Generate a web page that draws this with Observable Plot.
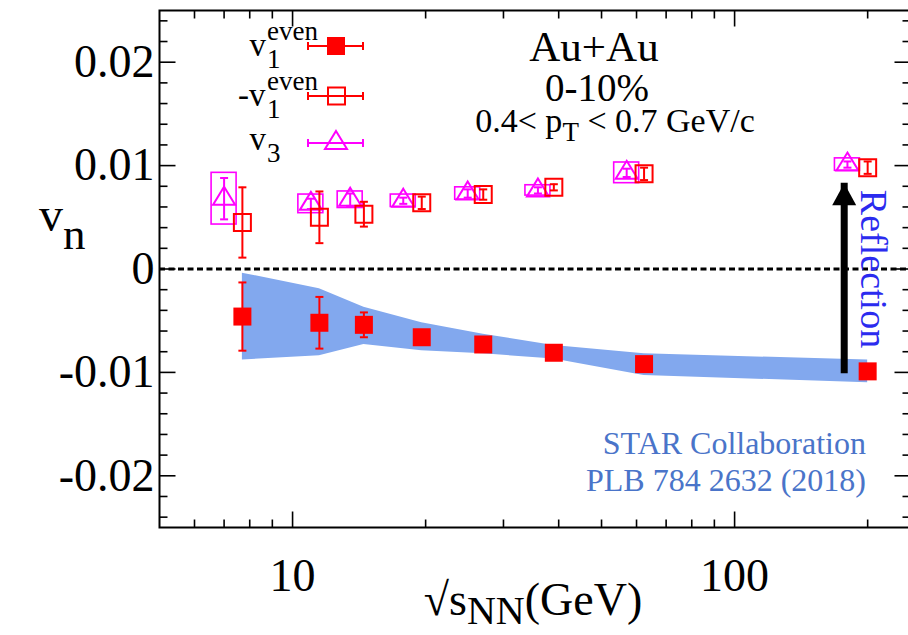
<!DOCTYPE html>
<html><head><meta charset="utf-8">
<script src="https://cdn.jsdelivr.net/npm/d3@7"></script>
<script src="https://cdn.jsdelivr.net/npm/@observablehq/plot@0.6"></script>
<style>body{margin:0;background:#fff}</style>
</head><body><div id="chart"></div>
<script>
// ---- data ----
const energies = [7.7, 11.5, 14.5, 19.6, 27, 39, 62.4, 200];
const v1Even = [-0.0046, -0.0052, -0.0054, -0.0066, -0.0073, -0.0081, -0.0092, -0.0099];
const v1EvenErr = [0.0033, 0.0025, 0.0012, 0.0003, 0.0002, 0.0002, 0.0002, 0.0002];
const negV1Even = [0.0045, 0.0050, 0.0053, 0.0064, 0.0072, 0.0079, 0.0092, 0.0098];
const negV1EvenErr = [0.0034, 0.0025, 0.0012, 0.0006, 0.0005, 0.0003, 0.0006, 0.0006];
const v3Energies = [7.0, 11.0, 13.5, 17.8, 24.9, 35.9, 57.0, 180];
const v3 = [0.0068, 0.0063, 0.0067, 0.0066, 0.0073, 0.0076, 0.0093, 0.0101];
const v3Err = [0.0020, 0.0005, 0.0006, 0.0003, 0.0004, 0.0003, 0.0004, 0.0003];
const v3Sys = [0.0025, 0.0009, 0.0008, 0.0006, 0.0006, 0.0005, 0.0010, 0.0006];
const bandHigh = [-0.0004, -0.0019, -0.0037, -0.0052, -0.0063, -0.0074, -0.0082, -0.0088];
const bandLow = [-0.0088, -0.0084, -0.0073, -0.0079, -0.0082, -0.0087, -0.0103, -0.0110];
const arrowX = 177, arrowFrom = -0.0084, arrowTo = 0.0083;
const reflectionPos = {x: 206, y: 0};
const xMajorTicks = [10, 100];
const xMinorTicks = [6, 7, 8, 9, 20, 30, 40, 50, 60, 70, 80, 90, 200];
const yMajorTicks = [-0.02, -0.01, 0, 0.01, 0.02];
const yMinorTicks = [-0.024, -0.022, -0.018, -0.016, -0.014, -0.012, -0.008, -0.006, -0.004, -0.002,
                     0.002, 0.004, 0.006, 0.008, 0.012, 0.014, 0.016, 0.018, 0.022, 0.024];

// ---- tables ----
const v1Data = energies.map((x, i) => ({x, y: v1Even[i], err: v1EvenErr[i]}));
const negData = energies.map((x, i) => ({x, y: negV1Even[i], err: negV1EvenErr[i]}));
const v3Data = v3Energies.map((x, i) => ({x, y: v3[i], err: v3Err[i], sys: v3Sys[i]}));
const bandData = energies.map((x, i) => ({x, lo: bandLow[i], hi: bandHigh[i]}));

// ---- custom symbols ----
const sym = fn => ({draw(ctx) { fn(ctx); }});
const squareSym = s => sym(c => { c.rect(-s, -s, 2 * s, 2 * s); });
const triSym = (w, h) => sym(c => { c.moveTo(0, -2 * h / 3); c.lineTo(w / 2, h / 3); c.lineTo(-w / 2, h / 3); c.closePath(); });
const hCap = w => sym(c => { c.moveTo(-w, 0); c.lineTo(w, 0); });
const tickV = L => sym(c => { c.moveTo(0, 0); c.lineTo(0, L); });
const tickH = L => sym(c => { c.moveTo(0, 0); c.lineTo(L, 0); });
const headSym = sym(c => { c.moveTo(0, 0); c.lineTo(12, 22); c.lineTo(-12, 22); c.closePath(); });

const RED = "#ff0000", MAG = "#ff00ff";
const F = "'Liberation Serif', 'Times New Roman', serif";

function errMarks(data, color) {
  return [
    Plot.ruleX(data, {x: "x", y1: d => d.y - d.err, y2: d => d.y + d.err, stroke: color, strokeWidth: 2}),
    Plot.dot(data, {x: "x", y: d => d.y - d.err, symbol: hCap(4), stroke: color, strokeWidth: 2, fill: "none"}),
    Plot.dot(data, {x: "x", y: d => d.y + d.err, symbol: hCap(4), stroke: color, strokeWidth: 2, fill: "none"})
  ];
}

const plot = Plot.plot({
  width: 908, height: 635,
  marginLeft: 159, marginRight: -2, marginTop: 10, marginBottom: 108,
  x: {type: "log", domain: [5, 250]},
  y: {domain: [-0.025, 0.025]},
  style: {fontFamily: F, background: "white", color: "black"},
  marks: [
    Plot.areaY(bandData, {x: "x", y1: "lo", y2: "hi", fill: "#82a8ee"}),
    Plot.ruleY([0], {stroke: "black", strokeWidth: 3, strokeDasharray: "6,3.5"}),
    // v3 systematic boxes
    Plot.rect(v3Data, {x1: "x", x2: "x", y1: d => d.y - d.sys, y2: d => d.y + d.sys, insetLeft: -12.5, insetRight: -12.5, stroke: MAG, strokeWidth: 1.6, fill: "none"}),
    ...errMarks(v3Data, MAG),
    Plot.dot(v3Data, {x: "x", y: "y", symbol: triSym(22, 18), stroke: MAG, strokeWidth: 2, fill: "none"}),
    ...errMarks(negData, RED),
    Plot.dot(negData, {x: "x", y: "y", symbol: squareSym(8.5), stroke: RED, strokeWidth: 2, fill: "none"}),
    ...errMarks(v1Data, RED),
    Plot.dot(v1Data, {x: "x", y: "y", symbol: squareSym(9), fill: RED, stroke: "none"}),
    // arrow
    Plot.ruleX([arrowX], {y1: arrowFrom, y2: arrowTo, insetTop: 18, stroke: "black", strokeWidth: 7}),
    Plot.dot([arrowX], {x: d => d, y: () => arrowTo, symbol: headSym, fill: "black", stroke: "none"}),
    Plot.text(["Reflection"], {x: () => reflectionPos.x, y: () => reflectionPos.y, text: d => d, rotate: 90, fill: "#2b2bef", fontSize: 38}),
    // frame & ticks
    Plot.frame({stroke: "black", strokeWidth: 2}),
    Plot.dot(xMajorTicks, {x: d => d, frameAnchor: "bottom", symbol: tickV(-16), stroke: "black", strokeWidth: 1.6, fill: "none"}),
    Plot.dot(xMinorTicks, {x: d => d, frameAnchor: "bottom", symbol: tickV(-8), stroke: "black", strokeWidth: 1.6, fill: "none"}),
    Plot.dot(xMajorTicks, {x: d => d, frameAnchor: "top", symbol: tickV(16), stroke: "black", strokeWidth: 1.6, fill: "none"}),
    Plot.dot(xMinorTicks, {x: d => d, frameAnchor: "top", symbol: tickV(8), stroke: "black", strokeWidth: 1.6, fill: "none"}),
    Plot.dot(yMajorTicks, {y: d => d, frameAnchor: "left", symbol: tickH(16), stroke: "black", strokeWidth: 1.6, fill: "none"}),
    Plot.dot(yMinorTicks, {y: d => d, frameAnchor: "left", symbol: tickH(8), stroke: "black", strokeWidth: 1.6, fill: "none"}),
    Plot.dot(yMajorTicks, {y: d => d, frameAnchor: "right", symbol: tickH(-16), stroke: "black", strokeWidth: 1.6, fill: "none"}),
    Plot.dot(yMinorTicks, {y: d => d, frameAnchor: "right", symbol: tickH(-8), stroke: "black", strokeWidth: 1.6, fill: "none"}),
    Plot.axisX({anchor: "bottom", ticks: xMajorTicks, tickSize: 0, tickPadding: 31, fontSize: 46, label: null, tickFormat: d => String(d)}),
    Plot.axisY({anchor: "left", ticks: yMajorTicks, tickSize: 0, tickPadding: 5, fontSize: 46, label: null, tickFormat: d => String(d)})
  ]
});
document.getElementById("chart").appendChild(plot);

// ---- extra texts (labels with sub/superscripts, annotation, legend) ----
const svg = d3.select(plot);
const g = svg.append("g").attr("font-family", F).attr("fill", "black").attr("text-anchor", "start");

// y label
const yl = g.append("text").attr("x", 39).attr("y", 231).attr("font-size", 48);
yl.append("tspan").text("v");
yl.append("tspan").attr("dy", 18).attr("font-size", 45).text("n");

// x label
const xl = g.append("text").attr("x", 533).attr("y", 615).attr("font-size", 46).attr("text-anchor", "middle");
xl.append("tspan").text("\u221As");
xl.append("tspan").attr("dy", 9).attr("font-size", 40).text("NN");
xl.append("tspan").attr("dy", -9).text("(GeV)");

// annotation (one text block, centred lines)
const ann = g.append("text").attr("text-anchor", "middle");
ann.append("tspan").attr("x", 594).attr("y", 61).attr("font-size", 43).text("Au+Au");
ann.append("tspan").attr("x", 597).attr("y", 101).attr("font-size", 39).text("0-10%");
ann.append("tspan").attr("x", 615).attr("y", 132).attr("font-size", 34).text("0.4< p");
ann.append("tspan").attr("dy", 9).attr("font-size", 27).text("T");
ann.append("tspan").attr("dy", -9).attr("font-size", 34).text(" < 0.7 GeV/c");

// STAR note
const star = g.append("text").attr("text-anchor", "end").attr("font-size", 32).attr("fill", "#4a74c9");
star.append("tspan").attr("x", 866).attr("y", 454).text("STAR Collaboration");
star.append("tspan").attr("x", 866).attr("y", 491).text("PLB 784 2632 (2018)");

// legend
const legendRows = [
  {y: 46, pre: "v", sub: "1", sup: "even", kind: "fill", color: RED},
  {y: 96, pre: "-v", sub: "1", sup: "even", kind: "open", color: RED},
  {y: 143, pre: "v", sub: "3", sup: null, kind: "tri", color: MAG}
];
const lt = g.append("text").attr("font-size", 33);
legendRows.forEach(r => {
  const base = r.y + (r.kind === "tri" ? 7 : 10);
  lt.append("tspan").attr("x", r.pre.length > 1 ? 238 : 249.5).attr("y", base).attr("font-size", 33).text(r.pre);
  lt.append("tspan").attr("x", 267).attr("y", base + 12).attr("font-size", 27).text(r.sub);
  if (r.sup) lt.append("tspan").attr("x", 267).attr("y", base - 16).attr("font-size", 27).text(r.sup);
  const lg = svg.append("g").attr("stroke", r.color).attr("stroke-width", 2).attr("fill", "none");
  lg.append("line").attr("x1", 308).attr("x2", 363).attr("y1", r.y).attr("y2", r.y);
  lg.append("line").attr("x1", 308).attr("x2", 308).attr("y1", r.y - 4).attr("y2", r.y + 4);
  lg.append("line").attr("x1", 363).attr("x2", 363).attr("y1", r.y - 4).attr("y2", r.y + 4);
  if (r.kind === "fill") lg.append("rect").attr("x", 327).attr("y", r.y - 9).attr("width", 18).attr("height", 18).attr("fill", r.color).attr("stroke", "none");
  if (r.kind === "open") lg.append("rect").attr("x", 328).attr("y", r.y - 8.5).attr("width", 17).attr("height", 17);
  if (r.kind === "tri") lg.append("path").attr("d", `M336,${r.y - 12}L347,${r.y + 6}L325,${r.y + 6}Z`);
});
</script>
</body></html>
